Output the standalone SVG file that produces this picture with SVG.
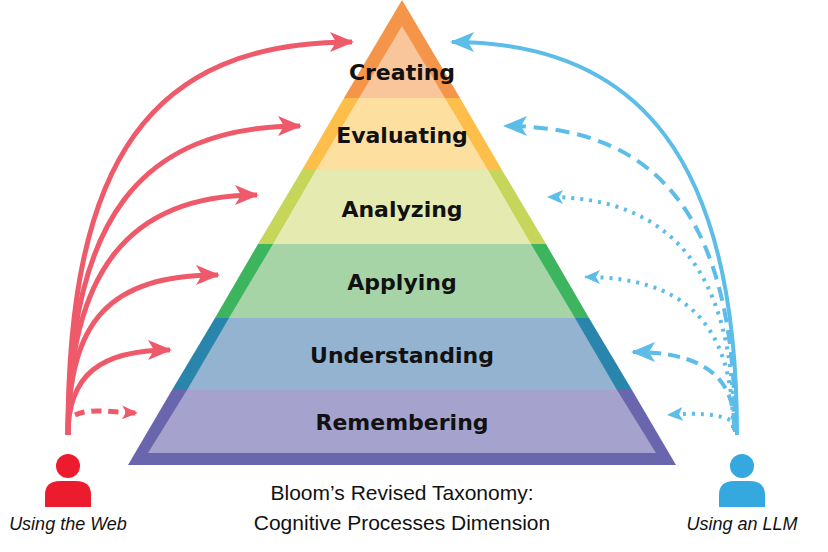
<svg xmlns="http://www.w3.org/2000/svg" width="828" height="552" viewBox="0 0 828 552">
<defs>
<marker id="ar" markerUnits="userSpaceOnUse" markerWidth="24" markerHeight="20" refX="22" refY="10" orient="auto" viewBox="0 0 24 20"><path d="M0,0 L24,10 L0,20 L6,10 z" fill="#EF5A6A"/></marker>
<marker id="ab" markerUnits="userSpaceOnUse" markerWidth="24" markerHeight="20" refX="22" refY="10" orient="auto" viewBox="0 0 24 20"><path d="M0,0 L24,10 L0,20 L6,10 z" fill="#5BBDE8"/></marker>
<marker id="abs" markerUnits="userSpaceOnUse" markerWidth="16" markerHeight="14" refX="15" refY="7" orient="auto" viewBox="0 0 16 14"><path d="M0,0 L16,7 L0,14 L4,7 z" fill="#5BBDE8"/></marker>
<marker id="ars" markerUnits="userSpaceOnUse" markerWidth="16" markerHeight="14" refX="15" refY="7" orient="auto" viewBox="0 0 16 14"><path d="M0,0 L16,7 L0,14 L4,7 z" fill="#EF5A6A"/></marker>
</defs>
<style>
.lbl{font-family:"DejaVu Sans",sans-serif;font-weight:bold;font-size:22px;fill:#111;text-anchor:middle}
.cap{font-family:"Liberation Sans",sans-serif;font-size:21px;fill:#111;text-anchor:middle}
.who{font-family:"Liberation Sans",sans-serif;font-style:italic;font-size:18px;fill:#111;text-anchor:middle}
.r{fill:none;stroke:#EF5A6A;stroke-width:5}
.b{fill:none;stroke:#5BBDE8;stroke-width:4}
</style>
<g id="pyramid">
<g id="creating"><polygon points="402,0 344,98 460,98" fill="#F4954A"/><polygon points="402,26 359,98 445,98" fill="#F9C59A"/><text class="lbl" x="402" y="80">Creating</text></g>
<g id="evaluating"><polygon points="344,98 460,98 502,170 302,170" fill="#FDBE4A"/><polygon points="359,98 445,98 488,170 316,170" fill="#FDDFA0"/><text class="lbl" x="402" y="143">Evaluating</text></g>
<g id="analyzing"><polygon points="302,170 502,170 546,244 258,244" fill="#C5D65A"/><polygon points="316,170 488,170 531,244 273,244" fill="#E5EBB0"/><text class="lbl" x="402" y="217">Analyzing</text></g>
<g id="applying"><polygon points="258,244 546,244 589,318 215,318" fill="#3DB45E"/><polygon points="273,244 531,244 575,318 229,318" fill="#A6D4A6"/><text class="lbl" x="402" y="290">Applying</text></g>
<g id="understanding"><polygon points="215,318 589,318 632,390 172,390" fill="#2A85AD"/><polygon points="229,318 575,318 617,390 187,390" fill="#93B3D1"/><text class="lbl" x="402" y="363">Understanding</text></g>
<g id="remembering"><polygon points="172,390 632,390 676,465 128,465" fill="#6A66AD"/><polygon points="187,390 617,390 656,453 148,453" fill="#A5A2CE"/><text class="lbl" x="402" y="430">Remembering</text></g>
</g>
<g id="connectors">
<path class="r" marker-end="url(#ar)" d="M68,435 C68,160 150,42 352,42"/>
<path class="r" marker-end="url(#ar)" d="M68,435 C68,220 140,126 300,126"/>
<path class="r" marker-end="url(#ar)" d="M68,435 C68,270 130,195 257,195"/>
<path class="r" marker-end="url(#ar)" d="M68,435 C68,320 110,275 218,275"/>
<path class="r" marker-end="url(#ar)" d="M68,435 C68,375 100,350 170,350"/>
<path class="r" stroke-width="3" stroke-dasharray="10,7" marker-end="url(#ars)" d="M75,415 C90,408 110,412 137,413"/>
<path class="b" marker-end="url(#ab)" d="M737,435 C737,160 640,42 452,42"/>
<path class="b" stroke-dasharray="14,8" marker-end="url(#ab)" d="M735,432 C735,220 660,126 505,126"/>
<path class="b" stroke-width="3" stroke-dasharray="3,6" marker-end="url(#abs)" d="M734,430 C734,270 670,197 548,197"/>
<path class="b" stroke-width="3" stroke-dasharray="3,6" marker-end="url(#abs)" d="M733,428 C733,320 680,277 585,277"/>
<path class="b" stroke-dasharray="12,7" marker-end="url(#ab)" d="M734,425 C734,375 700,352 633,352"/>
<path class="b" stroke-width="3" stroke-dasharray="3,6" marker-end="url(#abs)" d="M730,420 C715,413 695,413 668,415"/>
</g>
<g id="web-user"><circle cx="68" cy="466" r="12" fill="#EC1C2E"/><path d="M45,507 V495 Q45,481 60,481 H76 Q91,481 91,495 V507 z" fill="#EC1C2E"/><text class="who" x="68" y="530">Using the Web</text></g>
<g id="llm-user"><circle cx="742" cy="466" r="12" fill="#35A9DF"/><path d="M719,507 V495 Q719,481 734,481 H750 Q765,481 765,495 V507 z" fill="#35A9DF"/><text class="who" x="742" y="530">Using an LLM</text></g>
<g id="caption"><text class="cap" x="402" y="500">Bloom’s Revised Taxonomy:</text><text class="cap" x="402" y="530">Cognitive Processes Dimension</text></g>
</svg>
